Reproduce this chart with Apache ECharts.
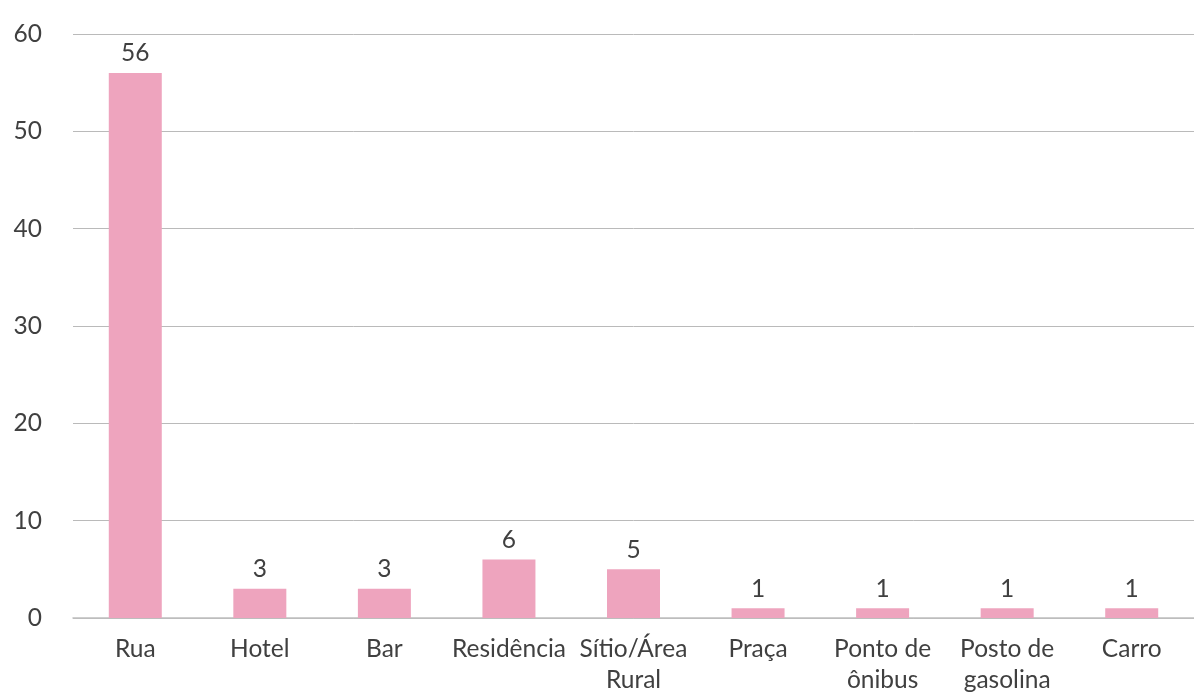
<!DOCTYPE html>
<html>
<head>
<meta charset="utf-8">
<script src="https://cdn.jsdelivr.net/npm/echarts@6/dist/echarts.min.js"></script>
<style>
  html, body { margin: 0; padding: 0; background: #fff; overflow: hidden; }
  #chart { width: 1194px; height: 696px; }
</style>
</head>
<body>
<div id="chart"></div>
<script>
const categories = ['Rua', 'Hotel', 'Bar', 'Residência', 'Sítio/Área Rural', 'Praça', 'Ponto de ônibus', 'Posto de gasolina', 'Carro']
const values = [56, 3, 3, 6, 5, 1, 1, 1, 1]
const yTicks = { min: 0, max: 60, interval: 10 }

// long names wrap on their last space, like the original
function wrapLabel(name) {
  if (name.length <= 10) return name
  const i = name.lastIndexOf(' ')
  return i < 0 ? name : name.slice(0, i) + '\n' + name.slice(i + 1)
}

const chart = echarts.init(document.getElementById('chart'))
chart.setOption({
  animation: false,
  textStyle: { fontFamily: 'Lato' },
  grid: { left: 73, width: 1128, top: 34, height: 587, containLabel: false },
  xAxis: {
    type: 'category',
    data: categories,
    axisLine: { lineStyle: { color: '#bfbfbf', width: 1.5 } },
    axisTick: { show: false },
    axisLabel: {
      interval: 0,
      color: '#404040',
      fontSize: 24.5,
      fontFamily: 'Lato',
      margin: 16,
      lineHeight: 31,
      formatter: wrapLabel
    }
  },
  yAxis: {
    type: 'value',
    min: yTicks.min,
    max: yTicks.max,
    interval: yTicks.interval,
    axisLine: { show: false },
    axisTick: { show: false },
    splitLine: { lineStyle: { color: '#bababa', width: 1 } },
    axisLabel: { color: '#404040', fontSize: 24.5, fontFamily: 'Lato', margin: 31 }
  },
  series: [{
    type: 'bar',
    data: values,
    barWidth: 53,
    itemStyle: { color: '#eea4be' },
    label: {
      show: true,
      position: 'top',
      distance: 7,
      color: '#404040',
      fontSize: 24.5,
      fontFamily: 'Lato'
    }
  }]
})
</script>
</body>
</html>
